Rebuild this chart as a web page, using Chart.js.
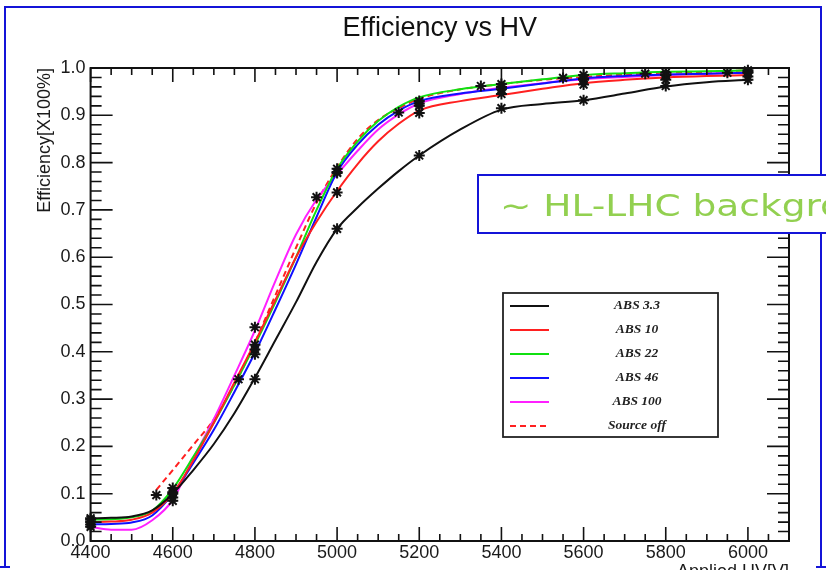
<!DOCTYPE html>
<html>
<head>
<meta charset="utf-8">
<title>Efficiency vs HV</title>
<script src="https://cdn.jsdelivr.net/npm/chart.js@4/dist/chart.umd.min.js"></script>
<style>
  html, body { margin: 0; padding: 0; background: #ffffff; overflow: hidden; }
  #wrap { position: relative; width: 826px; height: 570px; }
</style>
</head>
<body>
<div id="wrap"><canvas id="effChart" width="826" height="570"></canvas></div>
<script>
// Applied HV [V] at which the fitted efficiency curves are sampled
const curveHV = [4400, 4450, 4500, 4550, 4600, 4650, 4700, 4750, 4800, 4850, 4900, 4950,
                 5000, 5050, 5100, 5150, 5200, 5300, 5400, 5500, 5600, 5700, 5800, 5900, 6000];
// The source-off fit starts at its first measured voltage
const sourceOffCurveHV = [4560, 4600, 4650, 4700, 4750, 4800, 4850, 4900, 4950,
                          5000, 5050, 5100, 5150, 5200, 5300, 5400, 5500, 5600, 5700, 5800, 5900, 6000];

// Fitted efficiency curves (fraction, x100%)
const fitAbs33     = [0.048, 0.049, 0.052, 0.065, 0.100, 0.150, 0.205, 0.270, 0.345, 0.425, 0.505, 0.590,
                      0.660, 0.705, 0.745, 0.782, 0.815, 0.870, 0.912, 0.924, 0.932, 0.946, 0.961, 0.970, 0.975];
const fitAbs10     = [0.040, 0.041, 0.045, 0.060, 0.100, 0.170, 0.250, 0.335, 0.420, 0.510, 0.600, 0.675,
                      0.740, 0.797, 0.845, 0.882, 0.910, 0.930, 0.943, 0.956, 0.968, 0.975, 0.980, 0.983, 0.985];
const fitAbs22     = [0.045, 0.046, 0.050, 0.064, 0.110, 0.178, 0.250, 0.330, 0.415, 0.505, 0.600, 0.700,
                      0.787, 0.845, 0.888, 0.918, 0.938, 0.955, 0.966, 0.976, 0.985, 0.989, 0.992, 0.993, 0.995];
const fitAbs46     = [0.035, 0.036, 0.039, 0.054, 0.100, 0.165, 0.235, 0.315, 0.398, 0.490, 0.585, 0.685,
                      0.780, 0.838, 0.880, 0.910, 0.930, 0.946, 0.956, 0.967, 0.978, 0.983, 0.986, 0.988, 0.990];
const fitAbs100    = [0.030, 0.024, 0.024, 0.044, 0.087, 0.175, 0.258, 0.350, 0.445, 0.550, 0.648, 0.722,
                      0.775, 0.825, 0.870, 0.902, 0.925, 0.945, 0.958, 0.968, 0.976, 0.981, 0.985, 0.988, 0.990];
const fitSourceOff = [0.108, 0.150, 0.203, 0.257, 0.330, 0.420, 0.520, 0.620, 0.715,
                      0.790, 0.850, 0.890, 0.915, 0.935, 0.955, 0.966, 0.975, 0.981, 0.986, 0.990, 0.992, 0.995];

// Measured points
const measHV        = [4400, 4600, 4800, 5000, 5200, 5400, 5600, 5800, 6000];
const measAbs33     = [0.045, 0.085, 0.342, 0.660, 0.815, 0.915, 0.932, 0.962, 0.975];
const measAbs10     = [0.040, 0.100, 0.405, 0.737, 0.905, 0.945, 0.965, 0.975, 0.982];
const measAbs22     = [0.048, 0.112, 0.415, 0.787, 0.930, 0.966, 0.985, 0.990, 0.995];
const measAbs46     = [0.035, 0.103, 0.395, 0.778, 0.925, 0.955, 0.975, 0.985, 0.990];
const measAbs100    = [0.030, 0.092, 0.452, 0.780, 0.920, 0.960, 0.978, 0.985, 0.992];
const sourceOffHV   = [4560, 4760, 4950, 5150, 5350, 5550, 5750, 5950];
const measSourceOff = [0.097, 0.342, 0.727, 0.906, 0.962, 0.979, 0.988, 0.990];

// Axis tick labels
const xTickValues = [4400, 4600, 4800, 5000, 5200, 5400, 5600, 5800, 6000];
const yTickValues = [0.0, 0.1, 0.2, 0.3, 0.4, 0.5, 0.6, 0.7, 0.8, 0.9, 1.0];

const seriesLabels = ['ABS 3.3', 'ABS 10', 'ABS 22', 'ABS 46', 'ABS 100', 'Source off'];
const seriesColors = ['#111111', '#ff2020', '#10e010', '#1010ff', '#ff20ff', '#ff2020'];
const fitSets = [
  [curveHV, fitAbs33], [curveHV, fitAbs10], [curveHV, fitAbs22],
  [curveHV, fitAbs46], [curveHV, fitAbs100], [sourceOffCurveHV, fitSourceOff]
];
const measSets = [
  [measHV, measAbs33], [measHV, measAbs10], [measHV, measAbs22],
  [measHV, measAbs46], [measHV, measAbs100], [sourceOffHV, measSourceOff]
];

const pair = (xs, ys) => xs.map((x, i) => ({ x: x, y: ys[i] }));

const datasets = [];
fitSets.forEach(([xs, ys], i) => {
  datasets.push({
    type: 'line',
    label: seriesLabels[i],
    inLegend: true,
    data: pair(xs, ys),
    borderColor: seriesColors[i],
    borderWidth: 2,
    borderDash: i === 5 ? [6, 4] : [],
    pointRadius: 0,
    fill: false,
    cubicInterpolationMode: 'monotone',
    order: 1
  });
});
measSets.forEach(([xs, ys], i) => {
  datasets.push({
    type: 'scatter',
    label: seriesLabels[i] + ' data',
    data: pair(xs, ys),
    showLine: false,
    pointStyle: 'star',
    pointRadius: 5.5,
    pointBorderWidth: 2,
    pointBorderColor: '#111111',
    pointBackgroundColor: '#111111',
    clip: false,
    order: 0
  });
});

// Frame with inward ticks on all four sides
const frameTicks = {
  id: 'frameTicks',
  afterDatasetsDraw(chart) {
    const { ctx, chartArea: a, scales: { x, y } } = chart;
    ctx.save();
    ctx.strokeStyle = '#111111';
    ctx.lineWidth = 1.6;
    ctx.beginPath();
    const xMinor = 50, xPerMajor = 4;
    const nx = Math.round((x.max - x.min) / xMinor);
    for (let k = 0; k <= nx; k++) {
      const px = x.getPixelForValue(x.min + k * xMinor);
      const len = (k % xPerMajor === 0) ? 14 : 7;
      ctx.moveTo(px, a.bottom); ctx.lineTo(px, a.bottom - len);
      ctx.moveTo(px, a.top); ctx.lineTo(px, a.top + len);
    }
    const yMinor = 0.02, yPerMajor = 5;
    const ny = Math.round((y.max - y.min) / yMinor);
    for (let k = 0; k <= ny; k++) {
      const py = y.getPixelForValue(y.min + k * yMinor);
      const len = (k % yPerMajor === 0) ? 22 : 11;
      ctx.moveTo(a.left, py); ctx.lineTo(a.left + len, py);
      ctx.moveTo(a.right, py); ctx.lineTo(a.right - len, py);
    }
    ctx.stroke();
    ctx.lineWidth = 2;
    ctx.strokeRect(a.left, a.top, a.right - a.left, a.bottom - a.top);
    ctx.restore();
  }
};

// Boxed legend inside the plot
const boxLegend = {
  id: 'boxLegend',
  afterDatasetsDraw(chart) {
    const { ctx } = chart;
    const items = chart.data.datasets.filter(d => d.inLegend);
    const bx = 503, by = 293, bw = 215, bh = 144;
    ctx.save();
    ctx.fillStyle = '#ffffff';
    ctx.fillRect(bx, by, bw, bh);
    ctx.strokeStyle = '#222222';
    ctx.lineWidth = 1.8;
    ctx.strokeRect(bx, by, bw, bh);
    ctx.font = 'italic bold 13.5px "Liberation Serif", "Times New Roman", serif';
    ctx.textAlign = 'center';
    ctx.textBaseline = 'middle';
    items.forEach((d, i) => {
      const ry = by + 13 + i * 24;
      ctx.strokeStyle = d.borderColor;
      ctx.lineWidth = 2;
      ctx.setLineDash(d.borderDash || []);
      ctx.beginPath();
      ctx.moveTo(510, ry); ctx.lineTo(549, ry);
      ctx.stroke();
      ctx.setLineDash([]);
      ctx.fillStyle = '#222222';
      ctx.fillText(d.label, 637, ry);
    });
    ctx.restore();
  }
};

// Slide frame and the callout box
const slideDecor = {
  id: 'slideDecor',
  afterDraw(chart) {
    const { ctx } = chart;
    ctx.save();
    ctx.strokeStyle = '#1414d8';
    ctx.lineWidth = 2;
    ctx.beginPath();
    ctx.moveTo(5, 568); ctx.lineTo(5, 7); ctx.lineTo(821, 7); ctx.lineTo(821, 568);
    ctx.moveTo(0, 567); ctx.lineTo(10, 567);
    ctx.moveTo(816, 567); ctx.lineTo(826, 567);
    ctx.stroke();

    ctx.fillStyle = '#ffffff';
    ctx.fillRect(478, 175, 360, 58);
    ctx.strokeRect(478, 175, 360, 58);

    ctx.translate(500, 216);
    ctx.scale(1.21, 1);
    ctx.font = '31px "DejaVu Sans", sans-serif';
    ctx.fillStyle = '#92d050';
    ctx.textAlign = 'left';
    ctx.textBaseline = 'alphabetic';
    ctx.fillText('~ HL-LHC background', 0, 0);
    ctx.restore();
  }
};

const sansFont = '"Liberation Sans", Arial, Helvetica, sans-serif';

new Chart(document.getElementById('effChart'), {
  data: { datasets: datasets },
  options: {
    responsive: false,
    animation: false,
    events: [],
    layout: { padding: { left: 0, right: 37, top: 0, bottom: 0 } },
    scales: {
      x: {
        type: 'linear',
        min: 4400,
        max: 6100,
        grid: { display: false, drawTicks: false },
        border: { display: false },
        afterBuildTicks: s => { s.ticks = xTickValues.map(v => ({ value: v })); },
        afterFit: s => { s.height = 29; },
        ticks: {
          autoSkip: false,
          maxRotation: 0,
          padding: 1,
          color: '#1a1a1a',
          font: { family: sansFont, size: 18 },
          callback: v => String(v)
        },
        title: {
          display: true,
          text: 'Applied HV[V]',
          align: 'end',
          color: '#1a1a1a',
          font: { family: sansFont, size: 18 },
          padding: { top: 0, bottom: -13 }
        }
      },
      y: {
        type: 'linear',
        min: 0,
        max: 1,
        grid: { display: false, drawTicks: false },
        border: { display: false },
        afterBuildTicks: s => { s.ticks = yTickValues.map(v => ({ value: v })); },
        afterFit: s => { s.width = 90.6; },
        ticks: {
          padding: 5,
          color: '#1a1a1a',
          font: { family: sansFont, size: 18 },
          callback: v => Number(v).toFixed(1)
        },
        title: {
          display: true,
          text: 'Efficiency[X100%]',
          align: 'end',
          color: '#1a1a1a',
          font: { family: sansFont, size: 18 },
          padding: { top: 34, bottom: 0 }
        }
      }
    },
    plugins: {
      legend: { display: false },
      tooltip: { enabled: false },
      title: {
        display: true,
        text: 'Efficiency vs HV',
        fullSize: false,
        color: '#111111',
        font: { family: sansFont, size: 27, weight: 'normal' },
        padding: { top: 12, bottom: 23.6 }
      }
    }
  },
  plugins: [frameTicks, boxLegend, slideDecor]
});
</script>
</body>
</html>
